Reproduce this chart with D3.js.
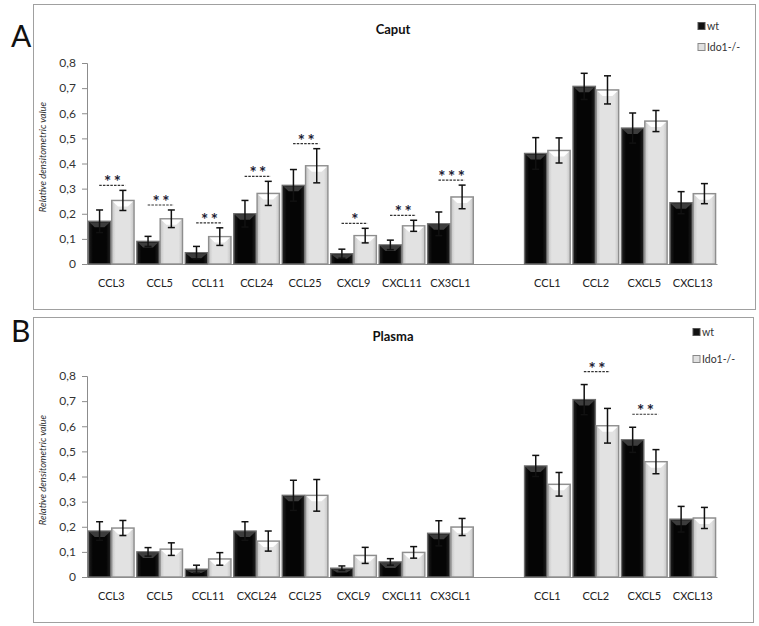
<!DOCTYPE html>
<html>
<head>
<meta charset="utf-8">
<script src="https://cdn.jsdelivr.net/npm/d3@7"></script>
<style>
  body { margin: 0; background: #fff; }
  svg { display: block; }
  text { font-family: Lato, "Open Sans", sans-serif; }
</style>
</head>
<body>
<svg id="chart" width="759" height="626"></svg>
<script>
// ---------- DATA ----------
const categoriesA = ["CCL3","CCL5","CCL11","CCL24","CCL25","CXCL9","CXCL11","CX3CL1","","CCL1","CCL2","CXCL5","CXCL13"];
const categoriesB = ["CCL3","CCL5","CCL11","CXCL24","CCL25","CXCL9","CXCL11","CX3CL1","","CCL1","CCL2","CXCL5","CXCL13"];
const seriesNames = ["wt","Ido1-/-"];
const yTicks = [0,0.1,0.2,0.3,0.4,0.5,0.6,0.7,0.8];
const yTickLabels = ["0","0,1","0,2","0,3","0,4","0,5","0,6","0,7","0,8"];

// Panel A – Caput
const wtA     = [0.170,0.090,0.045,0.200,0.313,0.041,0.076,0.160,null,0.440,0.707,0.541,0.244];
const wtErrA  = [0.045,0.020,0.025,0.053,0.063,0.018,0.019,0.047,null,0.063,0.052,0.060,0.044];
const koA     = [0.253,0.180,0.109,0.281,0.391,0.113,0.152,0.267,null,0.452,0.693,0.569,0.280];
const koErrA  = [0.040,0.035,0.035,0.048,0.068,0.029,0.022,0.047,null,0.050,0.056,0.042,0.040];
const sigA    = ["**","**","**","**","**","*","**","***","","","","",""];

// Panel B – Plasma
const wtB     = [0.183,0.100,0.031,0.183,0.325,0.035,0.060,0.174,null,0.442,0.706,0.546,0.230];
const wtErrB  = [0.037,0.017,0.016,0.037,0.060,0.009,0.013,0.050,null,0.042,0.060,0.050,0.051];
const koB     = [0.195,0.111,0.072,0.143,0.325,0.086,0.098,0.199,null,0.369,0.602,0.459,0.235];
const koErrB  = [0.030,0.025,0.025,0.040,0.063,0.032,0.023,0.034,null,0.047,0.069,0.048,0.042];
const sigB    = ["","","","","","","","","","","**","**",""];

// ---------- DRAW ----------
const svg = d3.select("#chart");
const defs = svg.append("defs");
function grad(id, stops) {
  const g = defs.append("linearGradient").attr("id", id).attr("x1","0%").attr("x2","100%").attr("y1","0%").attr("y2","0%");
  stops.forEach(([o,c]) => g.append("stop").attr("offset", o).attr("stop-color", c));
}
grad("gBlack", [["0%","#222"],["20%","#050505"],["80%","#050505"],["100%","#222"]]);
grad("gGrey",  [["0%","#c4c4c4"],["18%","#e2e2e2"],["82%","#e2e2e2"],["100%","#c4c4c4"]]);

function drawPanel(cfg) {
  const g = svg.append("g");
  // frame
  g.append("rect").attr("x", cfg.box[0] + 0.5).attr("y", cfg.box[1] + 0.5)
    .attr("width", cfg.box[2]).attr("height", cfg.box[3])
    .attr("fill", "none").attr("stroke", "#a0a0a0").attr("stroke-width", 1);
  // panel letter
  g.append("text").attr("x", 11).attr("y", cfg.letterY).text(cfg.letter)
    .attr("font-family", "'Liberation Sans', Arial, sans-serif").attr("font-size", 30).attr("fill", "#111");
  // title
  g.append("text").attr("x", 393).attr("y", cfg.titleY).attr("text-anchor", "middle")
    .attr("font-weight", "bold").attr("font-size", 13).attr("fill", "#111").text(cfg.title);

  const idx = d3.range(cfg.categories.length);
  const x = d3.scaleBand().domain(idx).range([87, 717]).padding(0);
  const x1 = d3.scaleBand().domain([0,1]).range([0, x.bandwidth()]).paddingInner(0.04).paddingOuter(0.06);
  const y = d3.scaleLinear().domain([0, 0.8]).range([cfg.y0, cfg.y0 - 201]);

  // y axis
  const yAxis = d3.axisLeft(y).tickValues(yTicks).tickFormat((d,i) => yTickLabels[i]).tickSize(5).tickPadding(6);
  const ya = g.append("g").attr("transform", "translate(87,0)").call(yAxis);
  ya.select(".domain").attr("stroke", "#8c8c8c");
  ya.selectAll(".tick line").attr("stroke", "#8c8c8c");
  ya.selectAll(".tick text").attr("font-size", 12).attr("fill", "#333").attr("font-family", "Lato, sans-serif");

  // y label
  g.append("text").attr("transform", `translate(46,${cfg.y0 - 107}) rotate(-90)`)
    .attr("text-anchor", "middle").attr("font-style", "italic").attr("font-size", 9.5)
    .attr("fill", "#333").text("Relative densitometric value");

  // x axis line
  const xa = d3.axisBottom(x).tickSize(0).tickFormat(i => cfg.categories[i]).tickPadding(15);
  const xg = g.append("g").attr("transform", `translate(0,${cfg.y0})`).call(xa);
  xg.select(".domain").attr("stroke", "#8c8c8c");
  xg.selectAll(".tick text").attr("font-size", 11).attr("fill", "#222").attr("font-family", "Lato, sans-serif");

  // bars
  const rows = [];
  idx.forEach(i => {
    if (cfg.wt[i] == null) return;
    rows.push({i, s: 0, v: cfg.wt[i], e: cfg.wtErr[i]});
    rows.push({i, s: 1, v: cfg.ko[i], e: cfg.koErr[i]});
  });
  const bars = g.append("g");
  rows.forEach(r => {
    const bx = x(r.i) + x1(r.s), bw = x1.bandwidth();
    const top = y(r.v), base = y(0);
    bars.append("rect").attr("x", bx).attr("y", top).attr("width", bw).attr("height", base - top)
      .attr("fill", r.s === 0 ? "url(#gBlack)" : "url(#gGrey)")
      .attr("stroke", r.s === 0 ? "#6e6e6e" : "#8e8e8e").attr("stroke-width", 1.4);
    // bevel cap highlight
    const capH = Math.min(6, (base - top) / 2);
    bars.append("path")
      .attr("d", `M${bx+1},${top+1} L${bx+bw-1},${top+1} L${bx+bw*0.72},${top+capH} L${bx+bw*0.28},${top+capH} Z`)
      .attr("fill", r.s === 0 ? "#4a4a4a" : "#ffffff").attr("opacity", r.s === 0 ? 0.8 : 0.95);
    // error bar
    const cx = bx + bw / 2;
    const eg = bars.append("g").attr("stroke", "#111").attr("stroke-width", 1.5);
    eg.append("line").attr("x1", cx).attr("x2", cx).attr("y1", y(r.v + r.e)).attr("y2", y(r.v - r.e));
    eg.append("line").attr("x1", cx - 3.5).attr("x2", cx + 3.5).attr("y1", y(r.v + r.e)).attr("y2", y(r.v + r.e));
    eg.append("line").attr("x1", cx - 3.5).attr("x2", cx + 3.5).attr("y1", y(r.v - r.e)).attr("y2", y(r.v - r.e));
  });

  // significance marks
  idx.forEach(i => {
    if (!cfg.sig[i]) return;
    const topVal = Math.max(cfg.wt[i] + cfg.wtErr[i], cfg.ko[i] + cfg.koErr[i]);
    const ly = y(topVal) - cfg.sigGap;
    const cx = x(i) + x.bandwidth() / 2 + 1;
    g.append("line").attr("x1", cx - 13).attr("x2", cx + 13).attr("y1", ly).attr("y2", ly)
      .attr("stroke", "#333").attr("stroke-width", 1.2).attr("stroke-dasharray", "2.5,1.2");
    g.append("text").attr("x", cx + 1.5).attr("y", ly + 3).attr("text-anchor", "middle")
      .attr("font-size", 17).attr("font-weight", "bold").attr("font-family", "'DejaVu Sans', sans-serif").attr("fill", "#1d1d35")
      .attr("letter-spacing", 2.5).text(cfg.sig[i]);
  });

  // legend
  seriesNames.forEach((n, k) => {
    const ly = cfg.legendY[k];
    g.append("rect").attr("x", cfg.legendX).attr("y", ly - 3.5).attr("width", 7).attr("height", 7)
      .attr("fill", k === 0 ? "#111" : "#e0e0e0").attr("stroke", k === 0 ? "#555" : "#888").attr("stroke-width", 1);
    g.append("text").attr("x", cfg.legendX + 9).attr("y", ly + 3.5).attr("font-size", 10.5)
      .attr("fill", "#333").text(n);
  });
}

drawPanel({
  box: [33, 4, 722, 305], letter: "A", letterY: 47, title: "Caput", titleY: 34,
  categories: categoriesA, wt: wtA, wtErr: wtErrA, ko: koA, koErr: koErrA, sig: sigA,
  y0: 264, sigGap: 5, legendX: 698, legendY: [26, 47]
});
drawPanel({
  box: [33, 317, 720, 305], letter: "B", letterY: 342, title: "Plasma", titleY: 341,
  categories: categoriesB, wt: wtB, wtErr: wtErrB, ko: koB, koErr: koErrB, sig: sigB,
  y0: 577, sigGap: 13, legendX: 693, legendY: [332, 359]
});
</script>
</body>
</html>
